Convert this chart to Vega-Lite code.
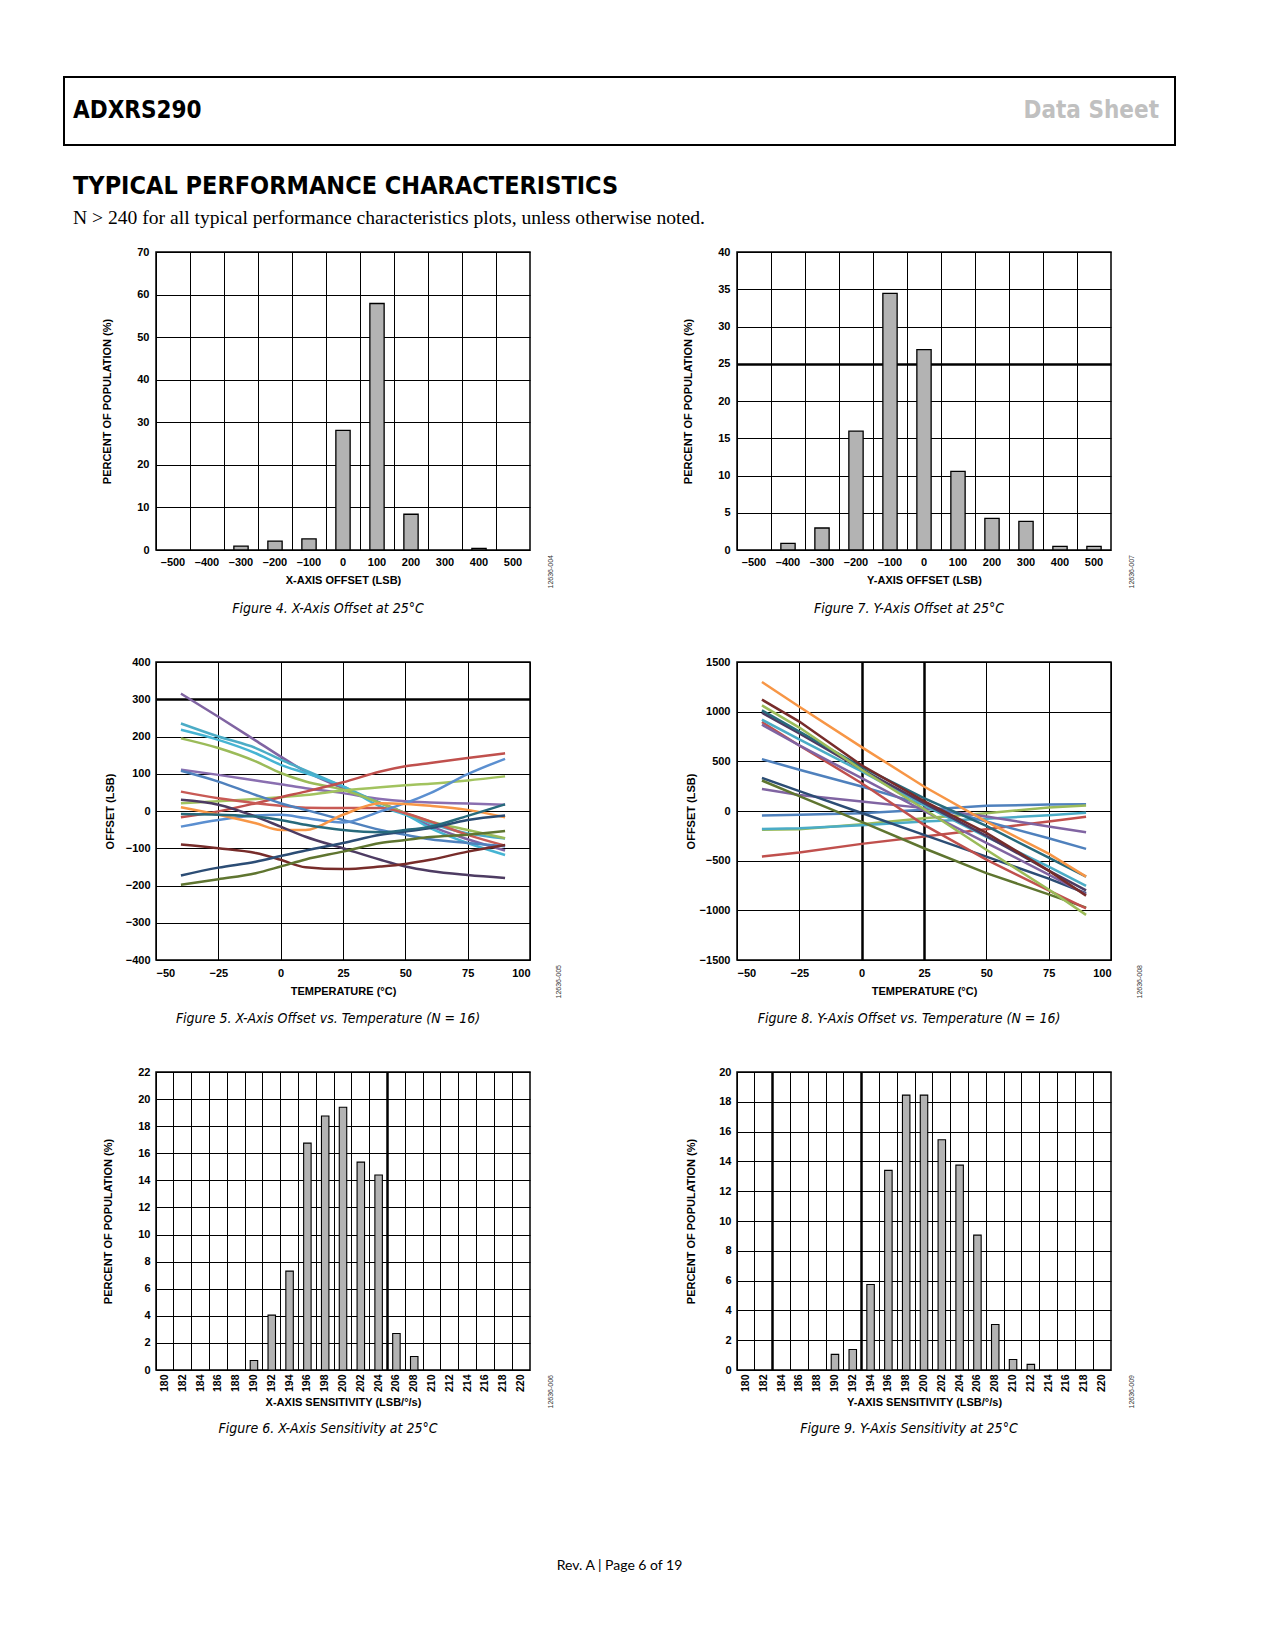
{
  "$schema": "https://vega.github.io/schema/vega-lite/v6.json",
  "description": "ADXRS290 data sheet page 6: typical performance characteristics",
  "background": "white",
  "padding": {"left": 63, "top": 76, "right": 20, "bottom": 20},
  "autosize": {"type": "pad"},
  "title": {
    "text": "Rev. A | Page 6 of 19",
    "orient": "bottom",
    "anchor": "middle",
    "offset": 122,
    "font": "Lato",
    "fontSize": 14,
    "fontStyle": "normal",
    "fontWeight": "normal",
    "color": "black"
  },
  "datasets": {
    "fig4": [
      {"lsb": -500, "pct": 0}, {"lsb": -400, "pct": 0}, {"lsb": -300, "pct": 0.9},
      {"lsb": -200, "pct": 2.1}, {"lsb": -100, "pct": 2.6}, {"lsb": 0, "pct": 28.1},
      {"lsb": 100, "pct": 57.9}, {"lsb": 200, "pct": 8.4}, {"lsb": 300, "pct": 0},
      {"lsb": 400, "pct": 0.4}, {"lsb": 500, "pct": 0}
    ],
    "fig7": [
      {"lsb": -500, "pct": 0}, {"lsb": -400, "pct": 0.9}, {"lsb": -300, "pct": 2.95},
      {"lsb": -200, "pct": 15.95}, {"lsb": -100, "pct": 34.45}, {"lsb": 0, "pct": 26.9},
      {"lsb": 100, "pct": 10.55}, {"lsb": 200, "pct": 4.25}, {"lsb": 300, "pct": 3.85},
      {"lsb": 400, "pct": 0.5}, {"lsb": 500, "pct": 0.5}
    ],
    "fig6": [
      {"sens": 180, "pct": 0}, {"sens": 182, "pct": 0}, {"sens": 184, "pct": 0},
      {"sens": 186, "pct": 0}, {"sens": 188, "pct": 0}, {"sens": 190, "pct": 0.7},
      {"sens": 192, "pct": 4.05}, {"sens": 194, "pct": 7.3}, {"sens": 196, "pct": 16.75},
      {"sens": 198, "pct": 18.75}, {"sens": 200, "pct": 19.4}, {"sens": 202, "pct": 15.35},
      {"sens": 204, "pct": 14.4}, {"sens": 206, "pct": 2.7}, {"sens": 208, "pct": 1.0},
      {"sens": 210, "pct": 0}, {"sens": 212, "pct": 0}, {"sens": 214, "pct": 0},
      {"sens": 216, "pct": 0}, {"sens": 218, "pct": 0}, {"sens": 220, "pct": 0}
    ],
    "fig9": [
      {"sens": 180, "pct": 0}, {"sens": 182, "pct": 0}, {"sens": 184, "pct": 0},
      {"sens": 186, "pct": 0}, {"sens": 188, "pct": 0}, {"sens": 190, "pct": 1.05},
      {"sens": 192, "pct": 1.38}, {"sens": 194, "pct": 5.74}, {"sens": 196, "pct": 13.4},
      {"sens": 198, "pct": 18.45}, {"sens": 200, "pct": 18.45}, {"sens": 202, "pct": 15.45},
      {"sens": 204, "pct": 13.75}, {"sens": 206, "pct": 9.05}, {"sens": 208, "pct": 3.05},
      {"sens": 210, "pct": 0.7}, {"sens": 212, "pct": 0.38}, {"sens": 214, "pct": 0},
      {"sens": 216, "pct": 0}, {"sens": 218, "pct": 0}, {"sens": 220, "pct": 0}
    ],
    "fig5": [
      {"t": -40, "p1": 315, "p2": 111, "c1": 235, "c2": 218, "g1": 195, "g2": 21, "r1": -17, "r2": 52, "b1": 108, "b2": -42, "o": 10, "dp": 30, "dr": -90, "db": -173, "dg": -198, "dt": -8},
      {"t": -25, "p1": 253, "p2": 97, "c1": 200, "c2": 191, "g1": 169, "g2": 26, "r1": -1, "r2": 34, "b1": 79, "b2": -24, "o": -10, "dp": 17, "dr": -100, "db": -152, "dg": -183, "dt": -10},
      {"t": -10, "p1": 189, "p2": 82, "c1": 169, "c2": 155, "g1": 133, "g2": 32, "r1": 21, "r2": 21, "b1": 43, "b2": -12, "o": -33, "dp": -15, "dr": -113, "db": -136, "dg": -167, "dt": -15},
      {"t": 0, "p1": 146, "p2": 72, "c1": 138, "c2": 124, "g1": 102, "g2": 37, "r1": 37, "r2": 14, "b1": 21, "b2": -10, "o": -51, "dp": -42, "dr": -131, "db": -121, "dg": -149, "dt": -24},
      {"t": 10, "p1": 106, "p2": 61, "c1": 109, "c2": 102, "g1": 79, "g2": 43, "r1": 52, "r2": 9, "b1": 3, "b2": -19, "o": -51, "dp": -69, "dr": -151, "db": -106, "dg": -130, "dt": -37},
      {"t": 25, "p1": 61, "p2": 48, "c1": 66, "c2": 66, "g1": 57, "g2": 55, "r1": 77, "r2": 8, "b1": -24, "b2": -31, "o": -10, "dp": -100, "dr": -156, "db": -86, "dg": -109, "dt": -51},
      {"t": 40, "p1": 22, "p2": 32, "c1": 21, "c2": 12, "g1": 21, "g2": 64, "r1": 106, "r2": 8, "b1": -51, "b2": -1, "o": 21, "dp": -131, "dr": -149, "db": -64, "dg": -86, "dt": -57},
      {"t": 50, "p1": -6, "p2": 26, "c1": -6, "c2": -10, "g1": -6, "g2": 69, "r1": 120, "r2": -6, "b1": -64, "b2": 21, "o": 19, "dp": -149, "dr": -142, "db": -55, "dg": -78, "dt": -51},
      {"t": 60, "p1": -40, "p2": 23, "c1": -33, "c2": -46, "g1": -28, "g2": 73, "r1": 129, "r2": -28, "b1": -76, "b2": 48, "o": 14, "dp": -161, "dr": -131, "db": -46, "dg": -70, "dt": -42},
      {"t": 75, "p1": -76, "p2": 20, "c1": -60, "c2": -86, "g1": -51, "g2": 82, "r1": 142, "r2": -64, "b1": -86, "b2": 99, "o": 3, "dp": -172, "dr": -109, "db": -24, "dg": -64, "dt": -13},
      {"t": 90, "p1": -106, "p2": 17, "c1": -74, "c2": -118, "g1": -73, "g2": 93, "r1": 155, "r2": -93, "b1": -95, "b2": 140, "o": -17, "dp": -180, "dr": -91, "db": -12, "dg": -54, "dt": 18}
    ],
    "fig8": [
      {"t": -40, "or": 1299, "dr": 1121, "g": 1063, "dt": 1013, "dp": 990, "c": 919, "r": 896, "p": 869, "db": 332, "dg": 307, "b": 522, "pl": 222, "bf": -45, "gf": -190, "cf": -180, "rf": -459},
      {"t": -25, "or": 1050, "dr": 900, "g": 840, "dt": 800, "dp": 780, "c": 720, "r": 660, "p": 660, "db": 200, "dg": 150, "b": 415, "pl": 160, "bf": -38, "gf": -183, "cf": -173, "rf": -418},
      {"t": 0, "or": 643, "dr": 460, "g": 415, "dt": 445, "dp": 420, "c": 398, "r": 280, "p": 330, "db": -20, "dg": -110, "b": 247, "pl": 96, "bf": -22, "gf": -133, "cf": -143, "rf": -331},
      {"t": 25, "or": 247, "dr": 100, "g": 20, "dt": 130, "dp": 80, "c": 60, "r": -140, "p": 0, "db": -240, "dg": -375, "b": 62, "pl": 29, "bf": 12, "gf": -72, "cf": -106, "rf": -257},
      {"t": 50, "or": -106, "dr": -220, "g": -390, "dt": -150, "dp": -250, "c": -260, "r": -490, "p": -320, "db": -460, "dg": -625, "b": -106, "pl": -55, "bf": 52, "gf": -22, "cf": -79, "rf": -183},
      {"t": 75, "or": -430, "dr": -600, "g": -790, "dt": -470, "dp": -600, "c": -560, "r": -800, "p": -640, "db": -680, "dg": -840, "b": -274, "pl": -156, "bf": 65, "gf": 35, "cf": -42, "rf": -106},
      {"t": 90, "or": -660, "dr": -852, "g": -1046, "dt": -660, "dp": -800, "c": -754, "r": -980, "p": -838, "db": -828, "dg": -973, "b": -381, "pl": -213, "bf": 69, "gf": 55, "cf": -18, "rf": -59}
    ]
  },
  "spacing": 107,
  "bounds": "flush",
  "vconcat": [
    {
      "width": 1111,
      "height": 68,
      "view": {"stroke": "black", "strokeWidth": 2},
      "data": {"values": [{"label": "ADXRS290", "pos": 0}, {"label": "Data Sheet", "pos": 1}]},
      "title": {
        "text": "TYPICAL PERFORMANCE CHARACTERISTICS",
        "subtitle": "N > 240 for all typical performance characteristics plots, unless otherwise noted.",
        "orient": "bottom",
        "anchor": "start",
        "frame": "group",
        "dx": 9,
        "offset": 29,
        "font": "DejaVu Sans Condensed",
        "fontSize": 25,
        "fontStyle": "normal",
        "fontWeight": "bold",
        "color": "black",
        "subtitleFont": "Liberation Serif",
        "subtitleFontSize": 19.6,
        "subtitleColor": "black",
        "subtitlePadding": 10
      },
      "layer": [
        {
          "transform": [{"filter": "datum.pos == 0"}],
          "mark": {"type": "text", "align": "left", "dx": 9, "font": "DejaVu Sans Condensed", "fontWeight": "bold", "fontSize": 24, "color": "black"},
          "encoding": {
            "x": {"field": "pos", "type": "quantitative", "scale": {"domain": [0, 1]}, "axis": null},
            "text": {"field": "label"}
          }
        },
        {
          "transform": [{"filter": "datum.pos == 1"}],
          "mark": {"type": "text", "align": "right", "dx": -16, "font": "DejaVu Sans Condensed", "fontWeight": "bold", "fontSize": 24, "color": "#c0c0c0"},
          "encoding": {
            "x": {"field": "pos", "type": "quantitative", "scale": {"domain": [0, 1]}, "axis": null},
            "text": {"field": "label"}
          }
        }
      ]
    },
    {
      "spacing": 0,
      "bounds": "flush",
      "hconcat": [
        {"width": 92, "height": 298, "data": {"values": [{"a": 1}]}, "mark": {"type": "text", "text": ""}},
        {
          "columns": 2,
          "spacing": {"row": 112, "column": 207},
          "bounds": "flush",
          "resolve": {"scale": {"color": "independent"}},
          "concat": [
            {
              "width": 374,
              "height": 298,
              "view": {"stroke": "black", "strokeWidth": 1.5},
              "data": {"name": "fig4"},
              "title": {"text": "Figure 4. X-Axis Offset at 25°C", "orient": "bottom", "offset": 14, "dx": -15},
              "layer": [
                {
                  "transform": [{"filter": "datum.pct > 0"}],
                  "mark": {"type": "bar", "fill": "#b3b3b3", "stroke": "black", "strokeWidth": 1.3, "width": {"band": 0.42}},
                  "encoding": {
                    "x": {"field": "lsb", "type": "ordinal", "scale": {"domain": [-500, -400, -300, -200, -100, 0, 100, 200, 300, 400, 500], "paddingInner": 0, "paddingOuter": 0}, "axis": {"orient": "bottom", "title": "X-AXIS OFFSET (LSB)", "labelAngle": 0, "labelPadding": 6, "titlePadding": 7, "grid": false, "labelExpr": "replace(datum.label, '-', '–')"}},
                    "y": {"field": "pct", "type": "quantitative", "scale": {"domain": [0, 70], "nice": false}, "axis": {"title": "PERCENT OF POPULATION (%)", "values": [0, 10, 20, 30, 40, 50, 60, 70], "grid": true, "labelPadding": 7, "titlePadding": 24}}
                  }
                },
                {
                  "mark": {"type": "bar", "opacity": 0},
                  "encoding": {
                    "x": {"field": "lsb", "type": "ordinal", "axis": {"orient": "top", "labels": false, "title": null, "grid": true, "bandPosition": 0}},
                    "y": {"field": "pct", "type": "quantitative", "axis": {"orient": "right", "labels": false, "grid": false, "title": "12636-004", "titleFontSize": 7, "titleFontWeight": "normal", "titleColor": "#333333", "titleAngle": 270, "titleAlign": "left", "titleBaseline": "middle", "titleX": 20, "titleY": 336}}
                  }
                }
              ],
              "resolve": {"axis": {"x": "independent", "y": "independent"}}
            },
            {
              "width": 374,
              "height": 298,
              "view": {"stroke": "black", "strokeWidth": 1.5},
              "data": {"name": "fig7"},
              "title": {"text": "Figure 7. Y-Axis Offset at 25°C", "orient": "bottom", "offset": 14, "dx": -15},
              "layer": [
                {
                  "transform": [{"filter": "datum.pct > 0"}],
                  "mark": {"type": "bar", "fill": "#b3b3b3", "stroke": "black", "strokeWidth": 1.3, "width": {"band": 0.42}},
                  "encoding": {
                    "x": {"field": "lsb", "type": "ordinal", "scale": {"domain": [-500, -400, -300, -200, -100, 0, 100, 200, 300, 400, 500], "paddingInner": 0, "paddingOuter": 0}, "axis": {"orient": "bottom", "title": "Y-AXIS OFFSET (LSB)", "labelAngle": 0, "labelPadding": 6, "titlePadding": 7, "grid": false, "labelExpr": "replace(datum.label, '-', '–')"}},
                    "y": {"field": "pct", "type": "quantitative", "scale": {"domain": [0, 40], "nice": false}, "axis": {"title": "PERCENT OF POPULATION (%)", "values": [0, 5, 10, 15, 20, 25, 30, 35, 40], "grid": true, "gridWidth": {"condition": {"test": "datum.value == 25", "value": 2.5}, "value": 1}, "labelPadding": 7, "titlePadding": 24}}
                  }
                },
                {
                  "mark": {"type": "bar", "opacity": 0},
                  "encoding": {
                    "x": {"field": "lsb", "type": "ordinal", "axis": {"orient": "top", "labels": false, "title": null, "grid": true, "bandPosition": 0}},
                    "y": {"field": "pct", "type": "quantitative", "axis": {"orient": "right", "labels": false, "grid": false, "title": "12636-007", "titleFontSize": 7, "titleFontWeight": "normal", "titleColor": "#333333", "titleAngle": 270, "titleAlign": "left", "titleBaseline": "middle", "titleX": 20, "titleY": 336}}
                  }
                }
              ],
              "resolve": {"axis": {"x": "independent", "y": "independent"}}
            },
            {
              "width": 374,
              "height": 298,
              "view": {"stroke": "black", "strokeWidth": 1.5},
              "data": {"name": "fig5"},
              "transform": [{"fold": ["p1", "p2", "c1", "c2", "g1", "g2", "r1", "r2", "b1", "b2", "o", "dp", "dr", "db", "dg", "dt"], "as": ["unit", "offset"]}],
              "title": {"text": "Figure 5. X-Axis Offset vs. Temperature (N = 16)", "orient": "bottom", "offset": 14, "dx": -15},
              "layer": [
                {
                  "mark": {"type": "line", "strokeWidth": 2.5, "interpolate": "monotone"},
                  "encoding": {
                    "x": {"field": "t", "type": "quantitative", "scale": {"domain": [-50, 100], "nice": false}, "axis": {"title": "TEMPERATURE (°C)", "values": [-50, -25, 0, 25, 50, 75, 100], "grid": true, "labelPadding": 7, "titlePadding": 7}},
                    "y": {"field": "offset", "type": "quantitative", "scale": {"domain": [-400, 400], "nice": false}, "axis": {"title": "OFFSET (LSB)", "values": [-400, -300, -200, -100, 0, 100, 200, 300, 400], "grid": true, "gridWidth": {"condition": {"test": "datum.value == 300", "value": 2.5}, "value": 1}, "labelPadding": 6, "titlePadding": 10}},
                    "color": {"field": "unit", "type": "nominal", "legend": null, "scale": {"domain": ["p1", "p2", "c1", "c2", "g1", "g2", "r1", "r2", "b1", "b2", "o", "dp", "dr", "db", "dg", "dt"], "range": ["#8064a2", "#8a6fb0", "#4bacc6", "#46b4d3", "#9bbb59", "#a2c35f", "#c0504d", "#c85a55", "#4f81bd", "#5b8fd0", "#f79646", "#4d3b62", "#772c2a", "#2c4d75", "#5f7530", "#276a7c"]}}
                  }
                },
                {
                  "mark": {"type": "point", "opacity": 0},
                  "encoding": {
                    "x": {"field": "t", "type": "quantitative"},
                    "y": {"field": "offset", "type": "quantitative", "axis": {"orient": "right", "labels": false, "grid": false, "title": "12636-005", "titleFontSize": 7, "titleFontWeight": "normal", "titleColor": "#333333", "titleAngle": 270, "titleAlign": "left", "titleBaseline": "middle", "titleX": 28, "titleY": 336}}
                  }
                }
              ],
              "resolve": {"axis": {"y": "independent"}}
            },
            {
              "width": 374,
              "height": 298,
              "view": {"stroke": "black", "strokeWidth": 1.5},
              "data": {"name": "fig8"},
              "transform": [{"fold": ["bf", "gf", "cf", "rf", "pl", "b", "db", "dg", "r", "p", "c", "dp", "dt", "g", "dr", "or"], "as": ["device", "offset"]}],
              "title": {"text": "Figure 8. Y-Axis Offset vs. Temperature (N = 16)", "orient": "bottom", "offset": 14, "dx": -15},
              "layer": [
                {
                  "mark": {"type": "line", "strokeWidth": 2.5},
                  "encoding": {
                    "x": {"field": "t", "type": "quantitative", "scale": {"domain": [-50, 100], "nice": false}, "axis": {"title": "TEMPERATURE (°C)", "values": [-50, -25, 0, 25, 50, 75, 100], "grid": true, "gridWidth": {"condition": {"test": "datum.value == 0 || datum.value == 25", "value": 2.5}, "value": 1}, "labelPadding": 7, "titlePadding": 7}},
                    "y": {"field": "offset", "type": "quantitative", "scale": {"domain": [-1500, 1500], "nice": false}, "axis": {"title": "OFFSET (LSB)", "values": [-1500, -1000, -500, 0, 500, 1000, 1500], "format": "d", "grid": true, "labelPadding": 7, "titlePadding": 3}},
                    "color": {"field": "device", "type": "nominal", "legend": null, "scale": {"domain": ["bf", "gf", "cf", "rf", "pl", "b", "db", "dg", "r", "p", "c", "dp", "dt", "g", "dr", "or"], "range": ["#4f81bd", "#9bbb59", "#4bacc6", "#c0504d", "#8064a2", "#4f81bd", "#2c4d75", "#5f7530", "#c0504d", "#8064a2", "#4bacc6", "#4d3b62", "#276a7c", "#9bbb59", "#772c2a", "#f79646"]}}
                  }
                },
                {
                  "mark": {"type": "point", "opacity": 0},
                  "encoding": {
                    "x": {"field": "t", "type": "quantitative"},
                    "y": {"field": "offset", "type": "quantitative", "axis": {"orient": "right", "labels": false, "grid": false, "title": "12636-008", "titleFontSize": 7, "titleFontWeight": "normal", "titleColor": "#333333", "titleAngle": 270, "titleAlign": "left", "titleBaseline": "middle", "titleX": 28, "titleY": 336}}
                  }
                }
              ],
              "resolve": {"axis": {"y": "independent"}}
            },
            {
              "width": 374,
              "height": 298,
              "view": {"stroke": "black", "strokeWidth": 1.5},
              "data": {"name": "fig6"},
              "title": {"text": "Figure 6. X-Axis Sensitivity at 25°C", "orient": "bottom", "offset": 14, "dx": -15},
              "layer": [
                {
                  "transform": [{"filter": "datum.pct > 0"}],
                  "mark": {"type": "bar", "fill": "#b3b3b3", "stroke": "black", "strokeWidth": 1.1, "width": {"band": 0.42}},
                  "encoding": {
                    "x": {"field": "sens", "type": "ordinal", "scale": {"domain": [180, 182, 184, 186, 188, 190, 192, 194, 196, 198, 200, 202, 204, 206, 208, 210, 212, 214, 216, 218, 220], "paddingInner": 0, "paddingOuter": 0}, "axis": {"orient": "bottom", "title": "X-AXIS SENSITIVITY (LSB/°/s)", "labelAngle": 270, "labelFontSize": 10.5, "labelPadding": 4, "titlePadding": 5, "grid": false}},
                    "y": {"field": "pct", "type": "quantitative", "scale": {"domain": [0, 22], "nice": false}, "axis": {"title": "PERCENT OF POPULATION (%)", "values": [0, 2, 4, 6, 8, 10, 12, 14, 16, 18, 20, 22], "grid": true, "labelPadding": 6, "titlePadding": 24}}
                  }
                },
                {
                  "mark": {"type": "bar", "opacity": 0},
                  "encoding": {
                    "x": {"field": "sens", "type": "ordinal", "axis": {"orient": "top", "labels": false, "title": null, "grid": true, "bandPosition": 0, "gridWidth": {"condition": {"test": "datum.value == 206", "value": 2.5}, "value": 1}}},
                    "y": {"field": "pct", "type": "quantitative", "axis": {"orient": "right", "labels": false, "grid": false, "title": "12636-006", "titleFontSize": 7, "titleFontWeight": "normal", "titleColor": "#333333", "titleAngle": 270, "titleAlign": "left", "titleBaseline": "middle", "titleX": 20, "titleY": 336}}
                  }
                }
              ],
              "resolve": {"axis": {"x": "independent", "y": "independent"}}
            },
            {
              "width": 374,
              "height": 298,
              "view": {"stroke": "black", "strokeWidth": 1.5},
              "data": {"name": "fig9"},
              "title": {"text": "Figure 9. Y-Axis Sensitivity at 25°C", "orient": "bottom", "offset": 14, "dx": -15},
              "layer": [
                {
                  "transform": [{"filter": "datum.pct > 0"}],
                  "mark": {"type": "bar", "fill": "#b3b3b3", "stroke": "black", "strokeWidth": 1.1, "width": {"band": 0.42}},
                  "encoding": {
                    "x": {"field": "sens", "type": "ordinal", "scale": {"domain": [180, 182, 184, 186, 188, 190, 192, 194, 196, 198, 200, 202, 204, 206, 208, 210, 212, 214, 216, 218, 220], "paddingInner": 0, "paddingOuter": 0}, "axis": {"orient": "bottom", "title": "Y-AXIS SENSITIVITY (LSB/°/s)", "labelAngle": 270, "labelFontSize": 10.5, "labelPadding": 4, "titlePadding": 5, "grid": false}},
                    "y": {"field": "pct", "type": "quantitative", "scale": {"domain": [0, 20], "nice": false}, "axis": {"title": "PERCENT OF POPULATION (%)", "values": [0, 2, 4, 6, 8, 10, 12, 14, 16, 18, 20], "grid": true, "labelPadding": 6, "titlePadding": 22}}
                  }
                },
                {
                  "mark": {"type": "bar", "opacity": 0},
                  "encoding": {
                    "x": {"field": "sens", "type": "ordinal", "axis": {"orient": "top", "labels": false, "title": null, "grid": true, "bandPosition": 0, "gridWidth": {"condition": {"test": "datum.value == 184 || datum.value == 194", "value": 2.5}, "value": 1}}},
                    "y": {"field": "pct", "type": "quantitative", "axis": {"orient": "right", "labels": false, "grid": false, "title": "12636-009", "titleFontSize": 7, "titleFontWeight": "normal", "titleColor": "#333333", "titleAngle": 270, "titleAlign": "left", "titleBaseline": "middle", "titleX": 20, "titleY": 336}}
                  }
                }
              ],
              "resolve": {"axis": {"x": "independent", "y": "independent"}}
            }
          ]
        }
      ]
    }
  ],
  "config": {
    "font": "Liberation Sans",
    "view": {"stroke": null},
    "axis": {
      "labelFont": "Liberation Sans",
      "labelFontWeight": "bold",
      "labelFontSize": 11,
      "labelColor": "black",
      "titleFont": "Liberation Sans",
      "titleFontWeight": "bold",
      "titleFontSize": 11,
      "titleColor": "black",
      "gridColor": "black",
      "gridOpacity": 1,
      "gridWidth": 1,
      "ticks": false,
      "domain": false
    },
    "title": {
      "font": "DejaVu Sans Condensed",
      "fontStyle": "italic",
      "fontWeight": "normal",
      "fontSize": 14,
      "color": "black"
    }
  }
}
